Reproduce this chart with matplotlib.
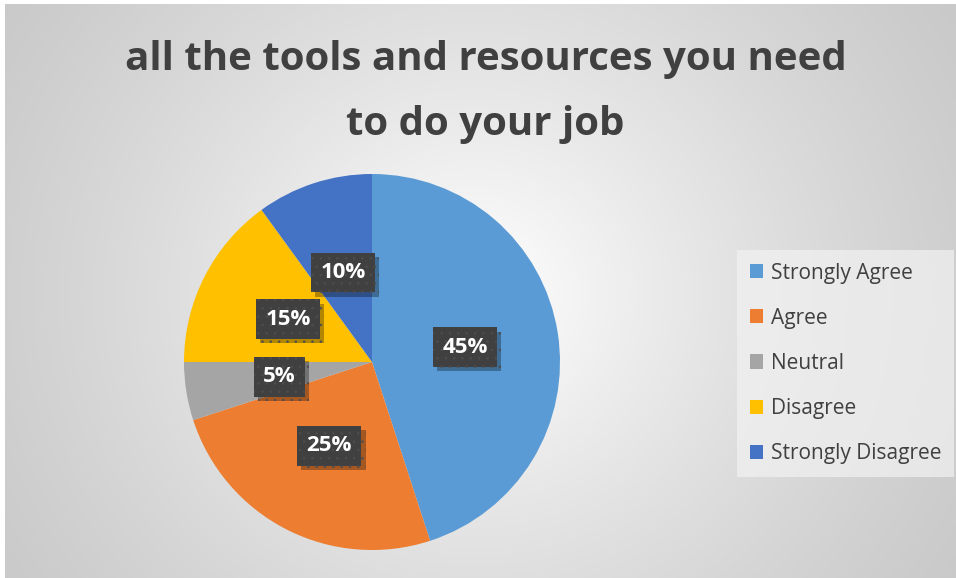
import numpy as np
import matplotlib
matplotlib.use("Agg")
import matplotlib.pyplot as plt
from matplotlib import patheffects

categories = ["Strongly Agree", "Agree", "Neutral", "Disagree", "Strongly Disagree"]
shares = [45, 25, 5, 15, 10]
colors = ["#5B9BD5", "#ED7D31", "#A5A5A5", "#FFC000", "#4472C4"]
title = "all the tools and resources you need\nto do your job"

W, H = 956, 578
fig = plt.figure(figsize=(W / 100, H / 100), dpi=100)
fig.patch.set_facecolor("white")

# radial gradient chart area
bg = fig.add_axes([5 / W, 0, (W - 5) / W, (H - 4) / H])
yy, xx = np.mgrid[0:H - 4, 0:W - 5]
cx, cy = 470, 290
d = np.sqrt(((xx - cx) / 1.0) ** 2 + ((yy - cy) / 0.95) ** 2) / 620
d = np.clip(d, 0, 1)
lo, hi = 1.0, 0.78
val = hi + (lo - hi) * (1 - d) ** 1.3
bg.imshow(np.dstack([val, val, val]), aspect="auto", origin="upper", interpolation="bilinear")
bg.set_axis_off()

# pie
cxp, cyp, r = 372, 362, 188
ax = fig.add_axes([(cxp - r) / W, (H - cyp - r) / H, 2 * r / W, 2 * r / H])
plt.rcParams["hatch.linewidth"] = 0.6
wedges, texts, autotexts = ax.pie(
    shares, colors=colors, startangle=90, counterclock=False,
    autopct=lambda p: f"{p:.0f}%", pctdistance=0.5,
    wedgeprops=dict(linewidth=0),
    textprops=dict(color="white", fontsize=16, fontweight="bold", family="Open Sans"),
)
ax.set_xlim(-1, 1)
ax.set_ylim(-1, 1)
ax.set_aspect("equal")
for t in autotexts:
    t.set_bbox(dict(boxstyle="square,pad=0.42", facecolor="#404040", edgecolor="#4d4d4d",
                    linewidth=0, hatch=".."))
    t.get_bbox_patch().set_path_effects([
        patheffects.SimplePatchShadow(offset=(3, -3), shadow_rgbFace="black", alpha=0.3),
        patheffects.Normal(),
    ])

fig.text(0.508, 1 - 70 / H, "all the tools and resources you need", ha="center",
         va="baseline", fontsize=29, fontweight="bold", family="Open Sans", color="#404040")
fig.text(0.508, 1 - 135 / H, "to do your job", ha="center",
         va="baseline", fontsize=29, fontweight="bold", family="Open Sans", color="#404040")

leg = fig.legend(wedges, categories, loc="upper left", bbox_to_anchor=(737 / W, 1 - 250 / H),
                 fontsize=15, frameon=True, fancybox=False, handlelength=0.67,
                 handleheight=0.67, handletextpad=0.34, labelspacing=1.16,
                 borderpad=0.6, borderaxespad=0)
leg.get_frame().set_facecolor("#f2f2f2")
leg.get_frame().set_alpha(0.7)
leg.get_frame().set_linewidth(0)
for t in leg.get_texts():
    t.set_color("#404040")
    t.set_family("Open Sans")

fig.savefig("out.png", dpi=100)
